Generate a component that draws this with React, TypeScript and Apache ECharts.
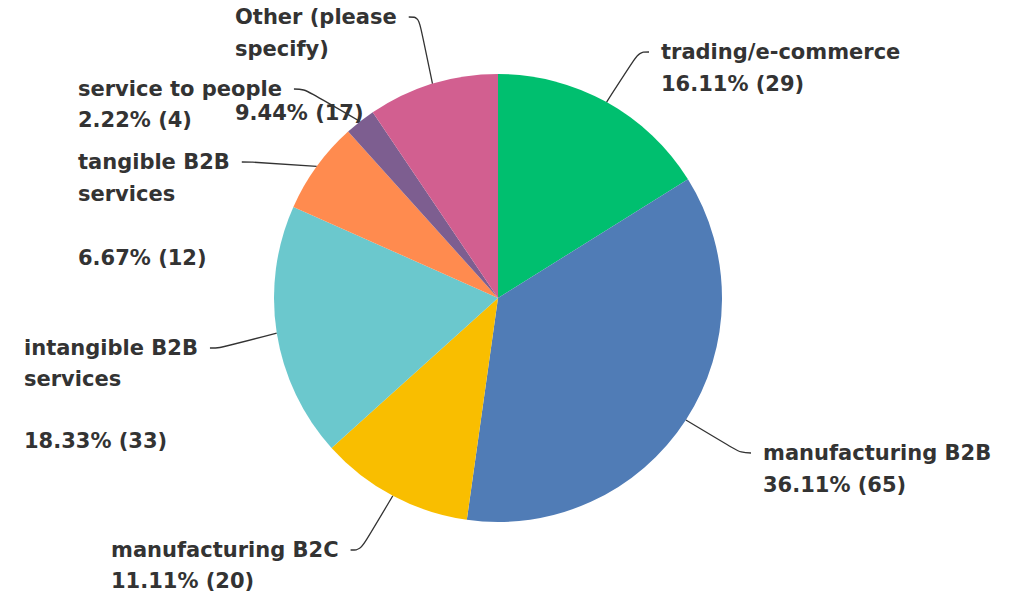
import { useEffect, useRef } from 'react';
import * as echarts from 'echarts';

// ---- data ----
const categories = [
  'trading/e-commerce',
  'manufacturing B2B',
  'manufacturing B2C',
  'intangible B2B services',
  'tangible B2B services',
  'service to people',
  'Other (please specify)',
];
const counts = [29, 65, 20, 33, 12, 4, 17];
const colors = ['#00BF6F', '#507CB6', '#F9BE00', '#6BC8CD', '#FF8B4F', '#7D5E90', '#D25F90'];
// number of words on the first label line
const firstLineWords = [1, 2, 2, 2, 2, 3, 2];

// ---- label placement (text left edge, first-line middle, line height) ----
const placements = [
  { left: 661, mid: 52, lh: 32 },
  { left: 763, mid: 453, lh: 32 },
  { left: 111, mid: 550, lh: 31 },
  { left: 24, mid: 348, lh: 31 },
  { left: 78, mid: 162, lh: 32 },
  { left: 78, mid: 89, lh: 31 },
  { left: 235, mid: 17, lh: 32 },
];
const PAD = 12;

const total = counts.reduce((a, b) => a + b, 0);
const pctText = counts.map((v) => `${((v / total) * 100).toFixed(2)}% (${v})`);
const firstLines = categories.map((c, i) => c.split(' ').slice(0, firstLineWords[i]).join(' '));
const restLines = categories.map((c, i) => c.split(' ').slice(firstLineWords[i]).join(' '));
const secondTexts = restLines.map((r, i) => (r ? `${r}\n\n${pctText[i]}` : pctText[i]));

const textStyle = {
  fontFamily: 'DejaVu Sans',
  fontWeight: 'bold' as const,
  fontSize: 21,
  color: '#333333',
};

export default function App() {
  const ref = useRef<HTMLDivElement>(null);
  useEffect(() => {
    if (!ref.current) return;
    const chart = echarts.init(ref.current, undefined, { renderer: 'svg' });
    const common = {
      type: 'pie' as const,
      center: [498, 298],
      radius: [0, 224],
      startAngle: 90,
      clockwise: true,
      avoidLabelOverlap: false,
      animation: false,
    };
    chart.setOption({
      animation: false,
      series: [
        {
          ...common,
          silent: true,
          data: counts.map((v, i) => ({
            name: categories[i],
            value: v,
            itemStyle: { color: 'rgba(0,0,0,0)' },
            label: { lineHeight: placements[i].lh },
          })),
          label: {
            show: true,
            position: 'outside',
            ...textStyle,
            formatter: (p: any) => secondTexts[p.dataIndex],
          },
          labelLine: { show: false },
          labelLayout: (params: any) => {
            const pl = placements[params.dataIndex];
            return { x: pl.left, y: pl.mid + pl.lh / 2, align: 'left', verticalAlign: 'top' };
          },
        },
        {
          ...common,
          data: counts.map((v, i) => ({
            name: categories[i],
            value: v,
            itemStyle: { color: colors[i] },
            label: { lineHeight: placements[i].lh },
          })),
          label: {
            show: true,
            position: 'outside',
            ...textStyle,
            padding: [0, PAD, 0, PAD],
            formatter: (p: any) => firstLines[p.dataIndex],
          },
          labelLine: {
            show: true,
            length: 10,
            length2: 10,
            smooth: 0.4,
            lineStyle: { color: '#333333', width: 1.3 },
          },
          labelLayout: (params: any) => {
            const pl = placements[params.dataIndex];
            return { x: pl.left - PAD, y: pl.mid - pl.lh / 2, align: 'left', verticalAlign: 'top' };
          },
        },
      ],
    });
    return () => chart.dispose();
  }, []);
  return (
    <div
      ref={ref}
      style={{ position: 'absolute', left: 0, top: 0, width: 1012, height: 599, background: '#ffffff' }}
    />
  );
}
